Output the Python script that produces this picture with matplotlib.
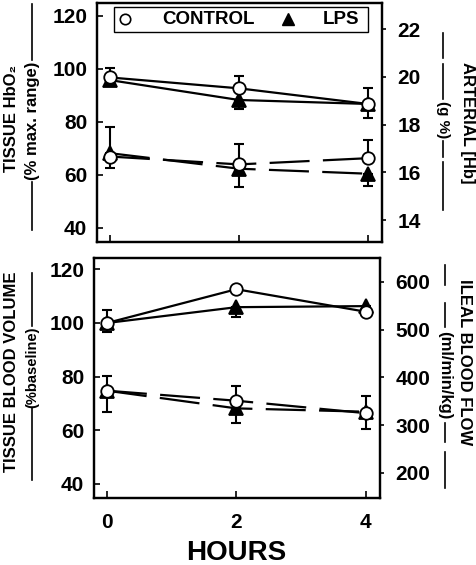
import matplotlib
matplotlib.use("Agg")
import matplotlib.pyplot as plt
from matplotlib.lines import Line2D
from matplotlib.patches import Rectangle

plt.rcParams['font.family'] = ['Liberation Sans', 'DejaVu Sans']
plt.rcParams['font.weight'] = 'bold'

# ---------------- data ----------------
hours = [0, 2, 4]
hour_ticks = [0, 2, 4]

# top panel: tissue HbO2 (% max. range), left axis, solid lines
hbo2_control = [96.8, 92.7, 86.8]
hbo2_control_err = [3.7, 4.8, 6.1]      # drawn upward
hbo2_lps = [95.8, 88.3, 86.8]
hbo2_lps_err = [1.8, 3.5, 5.2]          # drawn downward

# top panel: arterial [Hb] (g %), right axis, dashed lines
hb_control = [16.66, 16.33, 16.59]
hb_control_err = [1.23, 0.87, 0.77]
hb_lps = [16.80, 16.15, 15.94]
hb_lps_err = [0.61, 0.77, 0.50]

# bottom panel: tissue blood volume (% baseline), left axis, solid lines
tbv_control = [100.0, 112.6, 104.2]
tbv_control_err = [5.0, 1.2, 1.5]
tbv_lps = [100.0, 105.9, 106.3]
tbv_lps_err = [3.3, 3.8, 1.0]

# bottom panel: ileal blood flow (ml/min/kg), right axis, dashed lines
ibf_control = [372, 351, 325]
ibf_control_err = [31, 31, 35]
ibf_lps = [372, 335, 328]
ibf_lps_err = [44, 30, 37]

left_ticks = [40, 60, 80, 100, 120]
hb_ticks = [14, 16, 18, 20, 22]
ibf_ticks = [200, 300, 400, 500, 600]

# ---------------- figure ----------------
W, H = 476, 565
fig = plt.figure(figsize=(W / 100, H / 100), dpi=100)


def fx(x):
    return x / W


def fy(y):
    return 1 - y / H


ax1 = fig.add_axes([fx(97), fy(242), 285 / W, 239 / H])
ax2 = fig.add_axes([fx(94), fy(498), 286 / W, 240 / H])
ax1r = ax1.twinx()
ax2r = ax2.twinx()

dash = (0, (18, 6))
LW = 1.6


def series(ax, y, err, up, ls, marker, fc, ms, z):
    n = len(err)
    yerr = [[0] * n, err] if up else [err, [0] * n]
    ax.errorbar(hours, y, yerr=yerr, fmt='none', ecolor='black',
                elinewidth=1.5, capsize=3.5, capthick=1.5, zorder=z)
    ax.plot(hours, y, color='black', lw=LW, linestyle=ls, zorder=z + 1)
    ax.plot(hours, y, linestyle='none', marker=marker, ms=ms,
            mfc=fc, mec='black', mew=1.3, zorder=z + 2)


for ax, ctl, ce, lps, le, ls in [
    (ax1, hbo2_control, hbo2_control_err, hbo2_lps, hbo2_lps_err, '-'),
    (ax1r, hb_control, hb_control_err, hb_lps, hb_lps_err, dash),
    (ax2, tbv_control, tbv_control_err, tbv_lps, tbv_lps_err, '-'),
    (ax2r, ibf_control, ibf_control_err, ibf_lps, ibf_lps_err, dash),
]:
    series(ax, lps, le, False, ls, '^', 'black', 9.5, 2)
    series(ax, ctl, ce, True, ls, 'o', 'white', 9, 5)

# limits
for ax in (ax1, ax2):
    ax.set_xlim(-0.2, 4.22)
ax1.set_ylim(34.7, 124.9)
ax1r.set_ylim(13.08, 23.09)
ax2.set_ylim(34.7, 124.25)
ax2r.set_ylim(147.5, 649.6)

# ticks
for ax in (ax1, ax2):
    ax.set_yticks(left_ticks)
    ax.set_xticks(hour_ticks)
    ax.tick_params(axis='y', direction='in', length=4, width=1.2, pad=7,
                   labelsize=15)
    ax.tick_params(axis='x', direction='in', length=5, width=1.2, pad=11,
                   labelsize=15, top=False)
ax1.tick_params(axis='x', labelbottom=False)
ax1r.set_yticks(hb_ticks)
ax2r.set_yticks(ibf_ticks)
for ax in (ax1r, ax2r):
    ax.tick_params(axis='y', direction='out', length=3, width=1.2, pad=8,
                   labelsize=15)
for ax in (ax1, ax2, ax1r, ax2r):
    for sp in ax.spines.values():
        sp.set_linewidth(1.6)
    for lab in ax.get_xticklabels() + ax.get_yticklabels():
        lab.set_fontweight('bold')

# legend box (manual)
ax1r.add_patch(Rectangle((0.06, 0.879), 0.891, 0.104, transform=ax1.transAxes,
                         fill=False, lw=1.0, ec='black', zorder=10, clip_on=False))
ax1r.plot([0.098], [0.931], transform=ax1.transAxes, marker='o', ms=7.5,
          mfc='white', mec='black', mew=1.2, linestyle='none', clip_on=False, zorder=11)
ax1r.plot([0.67], [0.931], transform=ax1.transAxes, marker='^', ms=9,
          mfc='black', mec='black', linestyle='none', clip_on=False, zorder=11)
ax1r.text(0.228, 0.931, 'CONTROL', transform=ax1.transAxes, ha='left',
          va='center', fontsize=13.5, fontweight='bold', zorder=11)
ax1r.text(0.793, 0.931, 'LPS', transform=ax1.transAxes, ha='left',
          va='center', fontsize=13.5, fontweight='bold', zorder=11)

# x label
fig.text(fx(236), fy(553), 'HOURS', ha='center', va='center', fontsize=20,
         fontweight='bold')


def vtext(x, yc, s, rot, size):
    fig.text(fx(x), fy(yc), s, rotation=rot, ha='center', va='center',
             fontsize=size, fontweight='bold', rotation_mode='anchor')


def vline(x, y0, y1):
    fig.add_artist(Line2D([fx(x), fx(x)], [fy(y0), fy(y1)],
                          transform=fig.transFigure, color='black', lw=1.2))


# top-left label
vtext(12, 118, 'TISSUE HbO\u2082', 90, 12)
vtext(32, 121, '(% max. range)', 90, 12)
vline(32, 4, 60)
vline(32, 182, 230)

# top-right label
vtext(467, 123, 'ARTERIAL [Hb]', -90, 12)
vtext(443, 120, '(g %)', -90, 11)
for a, b in [(33, 58), (64, 99), (141, 157), (162, 210)]:
    vline(443, a, b)

# bottom-left label
vtext(12, 372, 'TISSUE BLOOD VOLUME', 90, 12)
vtext(32, 367, '(%baseline)', 90, 10.5)
vline(32, 273, 326)
vline(32, 408, 480)

# bottom-right label
vtext(465, 362, 'ILEAL BLOOD FLOW', -90, 12)
vtext(445, 375, '(ml/min/kg)', -90, 12)
for a, b in [(265, 285), (303, 327), (423, 442), (452, 488)]:
    vline(445, a, b)

fig.savefig('out.png', dpi=100)
